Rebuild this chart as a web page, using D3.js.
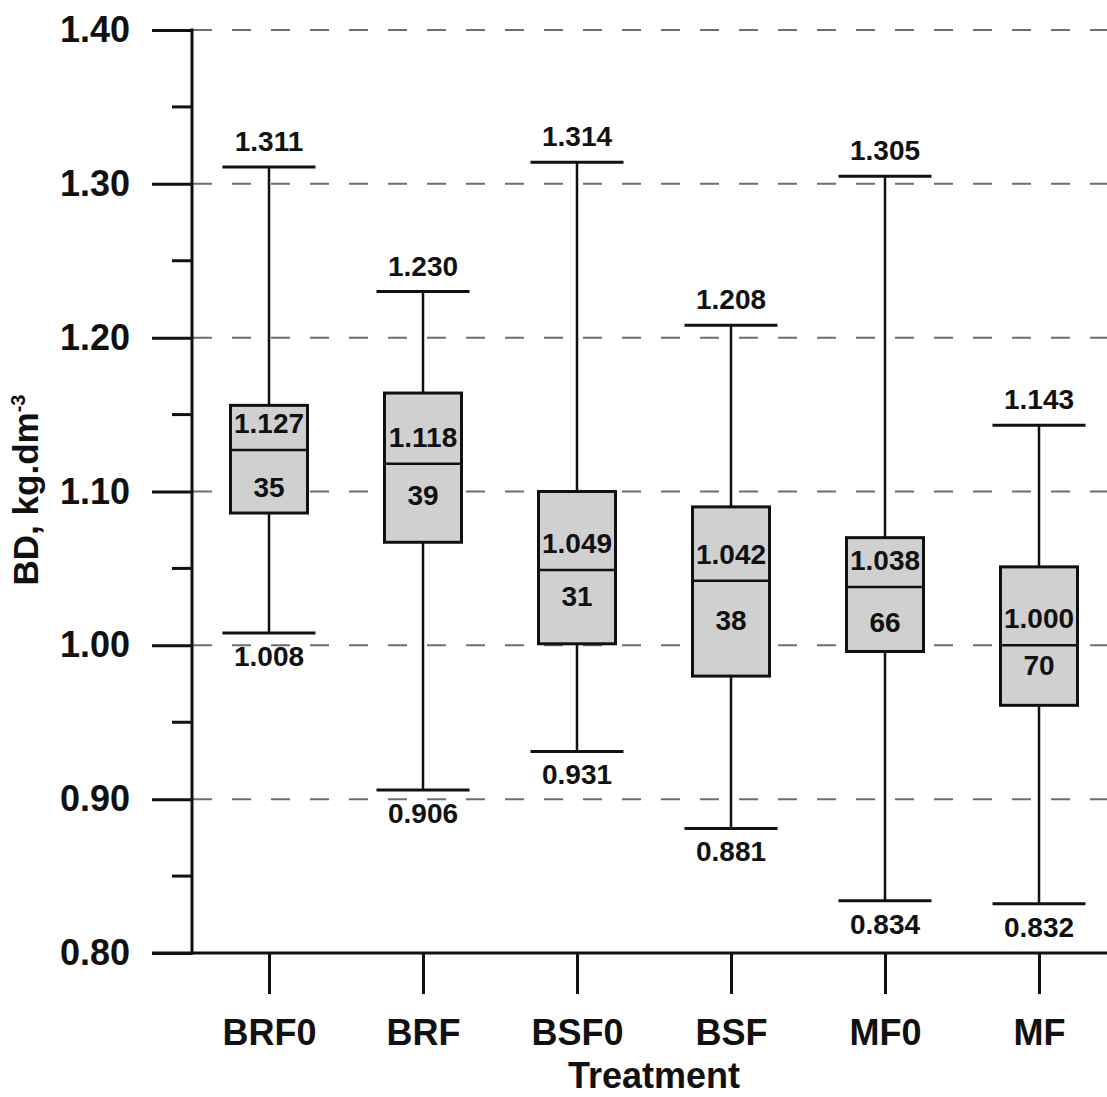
<!DOCTYPE html>
<html>
<head>
<meta charset="utf-8">
<script src="https://cdn.jsdelivr.net/npm/d3@7"></script>
<style>
  html, body { margin: 0; padding: 0; background: #fff; }
  svg { display: block; font-family: "Liberation Sans", Arial, Helvetica, sans-serif; }
</style>
</head>
<body>
<svg id="chart" width="1107" height="1097"></svg>
<script>
// Bulk density (BD) per treatment: whiskers, quartiles, median and sample count
const categories = ["BRF0", "BRF", "BSF0", "BSF", "MF0", "MF"];
const whiskerMax = [1.311, 1.230, 1.314, 1.208, 1.305, 1.143];
const upperQuartile = [1.156, 1.164, 1.100, 1.090, 1.070, 1.051];
const medians = [1.127, 1.118, 1.049, 1.042, 1.038, 1.000];
const lowerQuartile = [1.086, 1.067, 1.001, 0.980, 0.996, 0.961];
const whiskerMin = [1.008, 0.906, 0.931, 0.881, 0.834, 0.832];
const counts = [35, 39, 31, 38, 66, 70];

const majorTicks = [0.80, 0.90, 1.00, 1.10, 1.20, 1.30, 1.40];
const minorTicks = [0.85, 0.95, 1.05, 1.15, 1.25, 1.35];
const yTitle = "BD, kg.dm";
const yTitleSup = "-3";
const xTitle = "Treatment";

// vertical placement of the count labels, px below the median line
const countLabelDy = [47, 41, 36, 49, 45, 30];

const rows = categories.map((c, i) => ({
  cat: c, hi: whiskerMax[i], q3: upperQuartile[i], med: medians[i],
  q1: lowerQuartile[i], lo: whiskerMin[i], n: counts[i], ndy: countLabelDy[i]
}));

const svg = d3.select("#chart");
const axisX = 192, plotRight = 1116, axisTop = 30, axisBottom = 953;

const y = d3.scaleLinear().domain([0.80, 1.40]).range([axisBottom, axisTop]);
const x = d3.scalePoint().domain(categories).range([axisX, plotRight]).padding(0.5);

const boxW = x.step() / 2;
const capW = 93;
const ink = "#111";
const fmt3 = d3.format(".3f");

// dashed horizontal gridlines
svg.append("g").selectAll("line")
  .data(majorTicks.filter(v => v > 0.80))
  .join("line")
  .attr("x1", axisX + 1).attr("x2", 1107)
  .attr("y1", d => y(d)).attr("y2", d => y(d))
  .attr("stroke", "#6e6e6e").attr("stroke-width", 2)
  .attr("stroke-dasharray", "19,20");

// y axis: major ticks with labels, minor ticks without
const yAxis = svg.append("g").attr("transform", `translate(${axisX},0)`)
  .call(d3.axisLeft(y).tickValues(majorTicks).tickFormat(d3.format(".2f"))
    .tickSize(40).tickPadding(22));
yAxis.select(".domain").remove();
yAxis.selectAll(".tick line").attr("stroke", ink).attr("stroke-width", 3);
yAxis.selectAll(".tick text")
  .attr("fill", ink).attr("font-size", 36).attr("font-weight", "bold")
  .attr("font-family", "Liberation Sans, Arial, sans-serif");

svg.append("g").selectAll("line")
  .data(minorTicks).join("line")
  .attr("x1", axisX - 20).attr("x2", axisX)
  .attr("y1", d => y(d)).attr("y2", d => y(d))
  .attr("stroke", ink).attr("stroke-width", 3);

// x axis with category ticks
const xAxis = svg.append("g").attr("transform", `translate(0,${axisBottom})`)
  .call(d3.axisBottom(x).tickSize(41).tickPadding(14));
xAxis.select(".domain").remove();
xAxis.selectAll(".tick line").attr("stroke", ink).attr("stroke-width", 3);
xAxis.selectAll(".tick text")
  .attr("fill", ink).attr("font-size", 36).attr("font-weight", "bold")
  .attr("font-family", "Liberation Sans, Arial, sans-serif")
  .attr("dy", null).attr("y", null)
  .attr("transform", "translate(0,92)");

// axis lines
svg.append("line")
  .attr("x1", axisX).attr("x2", axisX).attr("y1", axisTop - 1.5).attr("y2", axisBottom + 1.5)
  .attr("stroke", ink).attr("stroke-width", 3);
svg.append("line")
  .attr("x1", 152).attr("x2", 1107).attr("y1", axisBottom).attr("y2", axisBottom)
  .attr("stroke", ink).attr("stroke-width", 3);

// box plots
const box = svg.append("g").selectAll("g").data(rows).join("g")
  .attr("transform", d => `translate(${x(d.cat)},0)`);

box.append("line")
  .attr("x1", 0).attr("x2", 0)
  .attr("y1", d => y(d.hi)).attr("y2", d => y(d.lo))
  .attr("stroke", ink).attr("stroke-width", 2.5);

box.append("line")
  .attr("x1", -capW / 2).attr("x2", capW / 2)
  .attr("y1", d => y(d.hi)).attr("y2", d => y(d.hi))
  .attr("stroke", ink).attr("stroke-width", 3);
box.append("line")
  .attr("x1", -capW / 2).attr("x2", capW / 2)
  .attr("y1", d => y(d.lo)).attr("y2", d => y(d.lo))
  .attr("stroke", ink).attr("stroke-width", 3);

box.append("rect")
  .attr("x", -boxW / 2).attr("width", boxW)
  .attr("y", d => y(d.q3)).attr("height", d => y(d.q1) - y(d.q3))
  .attr("fill", "#d0d0d0").attr("stroke", ink).attr("stroke-width", 3);

box.append("line")
  .attr("x1", -boxW / 2).attr("x2", boxW / 2)
  .attr("y1", d => y(d.med)).attr("y2", d => y(d.med))
  .attr("stroke", ink).attr("stroke-width", 2.5);

// value labels
const lbl = sel => sel.attr("text-anchor", "middle").attr("fill", ink)
  .attr("font-size", 28).attr("font-weight", "bold");

box.append("text").call(lbl)
  .attr("y", d => y(d.hi) - 16).text(d => fmt3(d.hi));
box.append("text").call(lbl)
  .attr("y", d => y(d.lo) + 33).text(d => fmt3(d.lo));
box.append("text").call(lbl)
  .attr("y", d => y(d.med) - 17).text(d => fmt3(d.med));
box.append("text").call(lbl)
  .attr("y", d => y(d.med) + d.ndy).text(d => d.n);

// axis titles
svg.append("text")
  .attr("x", (axisX + plotRight) / 2).attr("y", 1088)
  .attr("text-anchor", "middle").attr("fill", ink)
  .attr("font-size", 36).attr("font-weight", "bold")
  .text(xTitle);

const yt = svg.append("text")
  .attr("transform", "translate(38,490) rotate(-90)")
  .attr("text-anchor", "middle").attr("fill", ink)
  .attr("font-size", 35).attr("font-weight", "bold");
yt.append("tspan").text(yTitle);
yt.append("tspan").attr("font-size", 20).attr("dy", -13).text(yTitleSup);
</script>
</body>
</html>
